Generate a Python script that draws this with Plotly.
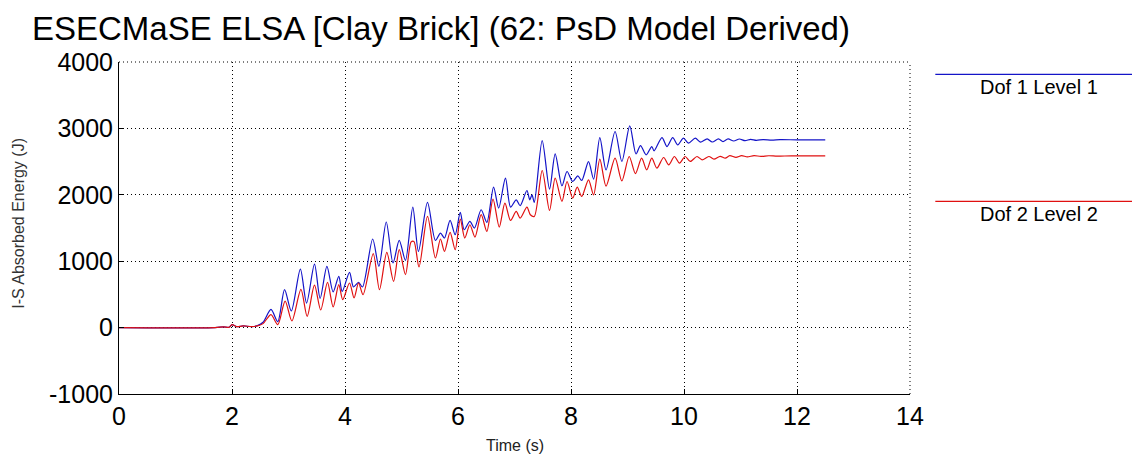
import plotly.graph_objects as go

# Dof 1 Level 1 (blue) - time (s) / absorbed energy (J)
t_dof1 = [0, 1.70, 1.85, 1.95, 2.00, 2.08, 2.20, 2.35, 2.45, 2.55, 2.69, 2.81, 2.93, 3.05, 3.21, 3.32,
          3.46, 3.56, 3.68, 3.79, 3.89, 3.95, 4.08, 4.15, 4.24, 4.31, 4.49, 4.60, 4.73, 4.85, 4.96,
          5.07, 5.20, 5.30, 5.46, 5.60, 5.69, 5.76, 5.86, 5.95, 6.04, 6.11, 6.21, 6.29, 6.41, 6.51,
          6.63, 6.72, 6.84, 6.93, 7.03, 7.10, 7.22, 7.27, 7.31, 7.35, 7.49, 7.62, 7.72, 7.84, 7.93,
          8.03, 8.12, 8.19, 8.31, 8.40, 8.51, 8.62, 8.78, 8.90, 9.04, 9.15, 9.23, 9.33, 9.43, 9.47,
          9.61, 9.70, 9.80, 9.89, 9.99, 10.08, 10.20, 10.29, 10.41, 10.50, 10.61, 10.69, 10.78,
          10.88, 10.98, 11.08, 11.18, 11.28, 11.40, 11.55, 11.70, 12.00, 12.50]
e_dof1 = [0, 0, 10, 5, 45, 15, 25, 15, 30, 80, 275, 90, 571, 250, 880, 370,
          955, 440, 922, 537, 772, 545, 832, 612, 682, 612, 1334, 922, 1590, 973, 1313,
          1013, 1815, 1148, 1885, 1313, 1424, 1349, 1614, 1399, 1734, 1474, 1599, 1499, 1775, 1584,
          2116, 1800, 2251, 1815, 1925, 1835, 2065, 1925, 2000, 1885, 2817, 2086, 2617, 2136, 2351,
          2200, 2286, 2216, 2501, 2236, 2860, 2376, 2953, 2502, 3038, 2615, 2742, 2602, 2727, 2662,
          2862, 2727, 2862, 2752, 2853, 2777, 2853, 2792, 2843, 2795, 2843, 2802, 2843,
          2810, 2840, 2815, 2836, 2820, 2832, 2824, 2830, 2828, 2828]

# Dof 2 Level 2 (red)
t_dof2 = [0, 1.70, 1.85, 1.95, 2.00, 2.08, 2.20, 2.35, 2.45, 2.55, 2.69, 2.81, 2.94, 3.06, 3.22, 3.33,
          3.46, 3.57, 3.69, 3.79, 3.89, 3.96, 4.08, 4.16, 4.24, 4.32, 4.50, 4.61, 4.74, 4.86, 4.96,
          5.07, 5.17, 5.22, 5.31, 5.46, 5.60, 5.69, 5.76, 5.86, 5.95, 6.04, 6.12, 6.21, 6.30, 6.41,
          6.51, 6.62, 6.73, 6.83, 6.93, 7.03, 7.10, 7.22, 7.28, 7.35, 7.49, 7.62, 7.72, 7.84, 7.93,
          8.03, 8.11, 8.19, 8.31, 8.40, 8.51, 8.62, 8.78, 8.90, 9.03, 9.14, 9.25, 9.34, 9.43, 9.52,
          9.64, 9.73, 9.83, 9.92, 10.02, 10.11, 10.23, 10.32, 10.44, 10.53, 10.64, 10.73, 10.81,
          10.92, 11.02, 11.12, 11.24, 11.36, 11.50, 11.65, 11.90, 12.50]
e_dof2 = [0, 0, 10, 5, 45, 15, 25, 15, 25, 60, 196, 45, 400, 100, 575, 170,
          640, 265, 680, 311, 647, 421, 672, 447, 672, 496, 1113, 571, 1133, 696, 1173,
          797, 1290, 1298, 913, 1674, 1048, 1334, 1148, 1434, 1173, 1635, 1349, 1549, 1364, 1700,
          1449, 1936, 1514, 1875, 1614, 1749, 1650, 1815, 1700, 1674, 2366, 1765, 2251, 1900, 2200,
          1951, 2116, 1975, 2226, 2000, 2537, 2130, 2552, 2210, 2577, 2320, 2552, 2376, 2552, 2402,
          2562, 2452, 2577, 2477, 2577, 2502, 2577, 2527, 2577, 2537, 2580, 2552, 2590,
          2565, 2590, 2572, 2590, 2578, 2588, 2582, 2587, 2587]

x_ticks = [0, 2, 4, 6, 8, 10, 12, 14]
y_ticks = [-1000, 0, 1000, 2000, 3000, 4000]
series_names = ['Dof 1 Level 1', 'Dof 2 Level 2']

FONT = 'Liberation Sans, Arial, sans-serif'
DOTS = '1px,3px'
BLUE = '#1414c8'
RED = '#e01010'

fig = go.Figure()
fig.add_trace(go.Scatter(x=t_dof1, y=e_dof1, mode='lines', name=series_names[0],
                         line=dict(color=BLUE, width=1.2, shape='spline', smoothing=0.8)))
fig.add_trace(go.Scatter(x=t_dof2, y=e_dof2, mode='lines', name=series_names[1],
                         line=dict(color=RED, width=1.2, shape='spline', smoothing=0.8)))

# page has an 8px body margin, so the figure is 8px smaller than the window
fig.update_layout(
    width=1132, height=451,
    margin=dict(l=111, r=230, t=54, b=65),
    paper_bgcolor='white', plot_bgcolor='white',
    showlegend=False,
    font=dict(family=FONT, color='black'),
    title=dict(text='ESECMaSE ELSA [Clay Brick] (62: PsD Model Derived)',
               x=24 / 1132, xanchor='left', y=0.9557, yanchor='middle',
               font=dict(size=33, color='black', family=FONT)),
)

axis_common = dict(showgrid=True, gridcolor='black', griddash=DOTS, gridwidth=1,
                   showline=True, linecolor='black', linewidth=1,
                   ticks='inside', ticklen=5, tickcolor='black',
                   zeroline=False, tickfont=dict(size=25, color='black', family=FONT))
fig.update_xaxes(range=[0, 14], tickvals=x_ticks, ticktext=[str(v) for v in x_ticks], **axis_common)
fig.update_yaxes(range=[-1000, 4000], tickvals=y_ticks, ticktext=[str(v) for v in y_ticks], **axis_common)

# dotted top and right edges (MATLAB grid at the box limits)
fig.add_shape(type='line', xref='paper', yref='paper', x0=0, x1=1, y0=1, y1=1,
              line=dict(color='black', width=1, dash=DOTS))
fig.add_shape(type='line', xref='paper', yref='paper', x0=1, x1=1, y0=0, y1=1,
              line=dict(color='black', width=1, dash=DOTS))

# axis titles
fig.add_annotation(text='Time (s)', xref='paper', yref='paper', x=0.5, y=-0.155,
                   showarrow=False, font=dict(size=16, color='#222'), yanchor='middle')
fig.add_annotation(text='I-S Absorbed Energy (J)', xref='paper', yref='paper', x=-0.128, y=0.515,
                   showarrow=False, textangle=-90, font=dict(size=16, color='#333'), xanchor='center')

# legend drawn to the right like the original
legend_rows = [(0.963, 0.925, BLUE), (0.580, 0.542, RED)]
for name, (ly, ty, col) in zip(series_names, legend_rows):
    fig.add_shape(type='line', xref='paper', yref='paper', x0=1.032, x1=1.30, y0=ly, y1=ly,
                  line=dict(color=col, width=1.2))
    fig.add_annotation(text=name, xref='paper', yref='paper', x=1.163, y=ty, showarrow=False,
                       font=dict(size=20, color='black'), xanchor='center', yanchor='middle')

fig.write_html('out.html')
